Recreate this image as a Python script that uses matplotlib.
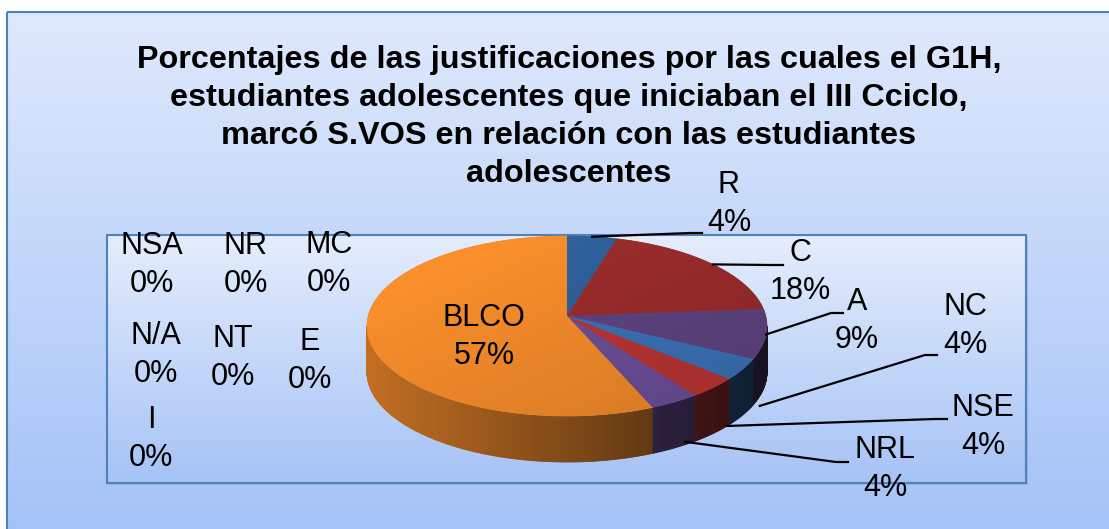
"""3D pie of the justification percentages (G1H)
"""

import numpy as np
import matplotlib.pyplot as plt
from matplotlib.collections import PolyCollection
from matplotlib.colors import to_rgb, LinearSegmentedColormap

# data
labels = ['R', 'C', 'A', 'NC', 'NSE', 'NRL', 'BLCO',
          'E', 'NT', 'N/A', 'I', 'NSA', 'NR', 'MC']
values = [4, 18, 9, 4, 4, 4, 57, 0, 0, 0, 0, 0, 0, 0]
colors = ['#2F5F98', '#982B2B', '#5E4380', '#3A72B5', '#B83434', '#6B4E97',
          '#F28A2A', '#2F5F98', '#982B2B', '#5E4380', '#3A72B5', '#B83434',
          '#6B4E97', '#F28A2A']

title_lines = ['Porcentajes de las justificaciones por las cuales el G1H,',
               'estudiantes adolescentes que iniciaban el III Cciclo,',
               'marcó S.VOS en relación con las estudiantes',
               'adolescentes']

# label positions (pixel coords of the picture)
label_pos = {'R': (729, 204), 'C': (800, 272), 'A': (857, 321),
             'NC': (965, 326), 'NSE': (983, 427), 'NRL': (885, 469),
             'BLCO': (484, 337),
             'NSA': (152, 265), 'NR': (246, 265), 'MC': (329, 264),
             'N/A': (156, 355), 'NT': (233, 358), 'E': (310, 361),
             'I': (151, 439)}
leader_end = {'R': (702, 233), 'C': (783, 265), 'A': (843, 313),
              'NC': (937, 355), 'NSE': (947, 419), 'NRL': (848, 462)}

W, H = 1109, 529
fig = plt.figure(figsize=(W / 100, H / 100), dpi=100)
ax = fig.add_axes([0, 0, 1, 1])
ax.axis('off')
plt.rcParams['font.family'] = ['Liberation Sans', 'DejaVu Sans']


def grad_box(x0, y0, x1, y1, c_top, c_bot, z, edge='#4F81BD', shadow=True):
    cmap = LinearSegmentedColormap.from_list('g', [c_top, c_bot])
    g = np.linspace(0, 1, 256).reshape(-1, 1)
    if shadow:
        ax.add_patch(plt.Rectangle((x0 + 2, y0 + 2), x1 - x0, y1 - y0,
                                   facecolor='#7F8FA8', alpha=0.35,
                                   edgecolor='none', zorder=z - 0.5))
    ax.imshow(g, cmap=cmap, extent=(x0, x1, y1, y0), aspect='auto',
              zorder=z, interpolation='bilinear')
    ax.add_patch(plt.Rectangle((x0, y0), x1 - x0, y1 - y0, facecolor='none',
                               edgecolor=edge, lw=1.5, zorder=z + 0.1))


# chart area and plot area
grad_box(7, 12, W + 5, H + 5, '#DFE9FC', '#A4C2F7', 1)
grad_box(107, 235, 1026, 483, '#E4EDFC', '#A6C3F6', 2)

# pie geometry
cx, cy = 567, 326
rx, ry = 200, 90
depth = 46
apex = (567, 316)


def ell(t, k=1.0):
    t = np.radians(t)
    return cx + k * rx * np.sin(t), cy - k * ry * np.cos(t)


total = sum(values)
angles = np.cumsum([0] + [v / total * 360 for v in values])

# side walls (front half only)
side_polys, side_cols = [], []
for i, v in enumerate(values):
    if v == 0:
        continue
    a0, a1 = max(angles[i], 90), min(angles[i + 1], 270)
    if a1 <= a0:
        continue
    ts = np.linspace(a0, a1, int((a1 - a0) * 2) + 2)
    base = np.array(to_rgb(colors[i]))
    for ta, tb in zip(ts[:-1], ts[1:]):
        xa, ya = ell(ta)
        xb, yb = ell(tb)
        side_polys.append([(xa, ya), (xb, yb), (xb, yb + depth), (xa, ya + depth)])
        f = 0.8 - 0.55 * ((xa + xb) / 2 - (cx - rx)) / (2 * rx)
        side_cols.append(np.clip(base * f, 0, 1))
ax.add_collection(PolyCollection(side_polys, facecolors=side_cols,
                                 edgecolors=side_cols, linewidths=0.6, zorder=3))

# top faces, shaded light top-left to darker bottom-right
gx, gy = np.meshgrid(np.linspace(0, 1, 200), np.linspace(0, 1, 100))
shade = 1.07 - 0.2 * (gx + gy) / 2
for i, v in enumerate(values):
    if v == 0:
        continue
    ts = np.linspace(angles[i], angles[i + 1], max(int(v * 8), 4))
    xs, ys = ell(ts)
    pts = [apex] + list(zip(xs, ys))
    poly = plt.Polygon(pts, closed=True, facecolor=colors[i],
                       edgecolor=colors[i], lw=0.5, zorder=4)
    ax.add_patch(poly)
    img = np.clip(np.array(to_rgb(colors[i]))[None, None, :] * shade[..., None], 0, 1)
    im = ax.imshow(img, extent=(cx - rx, cx + rx, cy + ry, cy - ry),
                   aspect='auto', zorder=4.1, interpolation='bilinear')
    im.set_clip_path(poly)

# labels and leader lines
for i, (lab, v) in enumerate(zip(labels, values)):
    x, y = label_pos[lab]
    ax.text(x, y, f'{lab}\n{v}%', ha='center', va='center', fontsize=22,
            linespacing=1.32, zorder=6)
    if lab in leader_end:
        mid = (angles[i] + angles[i + 1]) / 2
        if 110 < mid < 250:
            sx, sy = ell(mid, 1.1)
            sy += depth * 0.7
        else:
            sx, sy = ell(mid)
        ex, ey = leader_end[lab]
        ax.plot([sx, ex - 12, ex], [sy, ey, ey], color='black', lw=1.6, zorder=5)

for j, line in enumerate(title_lines):
    ax.text(569, 60 + 38 * j, line, ha='center', va='center', fontsize=23.3,
            fontweight='bold', zorder=6)

ax.set_xlim(0, W)
ax.set_ylim(H, 0)
fig.savefig('out.png', dpi=100)
